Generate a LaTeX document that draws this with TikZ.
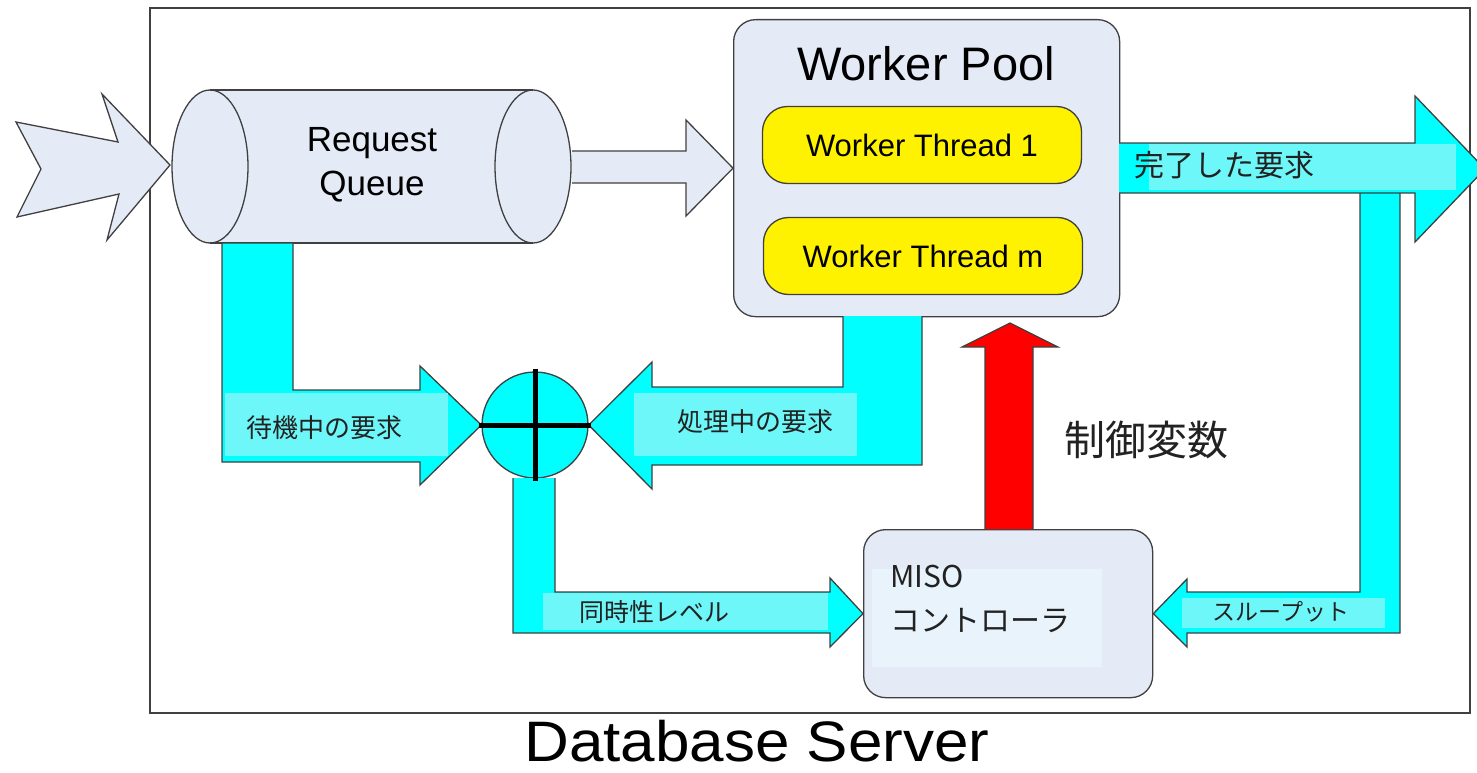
\documentclass[tikz,border=0pt]{standalone}
\usepackage{fontspec}
\setmainfont{Liberation Sans}
\newfontfamily\jp{Noto Sans CJK JP}
\usepackage{tikz}
\usetikzlibrary{shapes.geometric}
\definecolor{Pale}{RGB}{228,234,246}
\definecolor{Aqua}{RGB}{0,255,255}
\definecolor{AquaLight}{RGB}{110,247,248}
\definecolor{MisoLight}{RGB}{233,243,251}
\definecolor{Ink}{RGB}{34,34,34}
\tikzset{
  outline/.style={draw=black!75, line width=1.3pt, line join=miter},
  paleshape/.style={outline, fill=Pale},
  flow/.style={outline, fill=Aqua},
  box/.style={paleshape, rounded corners=22pt, inner sep=0pt},
  thread/.style={outline, fill=yellow, rounded corners=25pt, minimum width=319pt, minimum height=77pt, font=\fontsize{31}{34}\selectfont},
  jtext/.style={font=\jp\fontsize{#1}{#1}\selectfont, text=Ink, inner sep=0pt},
}

\begin{document}
\begin{tikzpicture}[x=1pt, y=-1pt]
        \useasboundingbox (0,0) rectangle (1477,773);

        % server frame
        \draw[black!75, line width=1.6pt] (150,8) rectangle (1470,713);
        \node[font=\fontsize{62}{64}\selectfont, inner sep=0pt, yscale=0.92, transform shape] (server) at (757,741) {Database Server};

        % boxes
        \node[box, minimum width=386pt, minimum height=297pt, anchor=north west] (pool) at (733,19) {};
        \node[font=\fontsize{47}{50}\selectfont, inner sep=0pt] (pooltitle) at (926,64) {Worker Pool};
        \node[thread] (thread1) at (922,145) {Worker Thread 1};
        \node[thread] (threadm) at (923,256) {Worker Thread m};
        \node[box, minimum width=289pt, minimum height=168pt, anchor=north west] (miso) at (863,529) {};
        \node[circle, outline, fill=Aqua, minimum size=106pt, inner sep=0pt] (sum) at (535,425) {};

        % incoming requests and queue
        \draw[paleshape] (16,122) -- (118,142) -- (102,94) -- (170,165) -- (107,240) -- (119,194) -- (17,217) -- (41,169) -- cycle;
        \fill[Pale] (210,90) rectangle (533,243);
        \draw[paleshape] (533,166.5) ellipse [x radius=38pt, y radius=76.5pt];
        \draw[paleshape] (210,166.5) ellipse [x radius=38pt, y radius=76.5pt];
        \draw[outline] (210,90) -- (533,90) (210,243) -- (533,243);
        \node[font=\fontsize{35}{44}\selectfont, align=center] (queue) at (372,165) {Request\\Queue};
        \draw[paleshape] (572,151) -- (686,151) -- (686,120) -- (pool.west) -- (686,216) -- (686,183) -- (572,183);

        % cyan flows
        \draw[flow] (1360,168) -- (1360,592) -- (1187,592) -- (1187,579) -- (miso.east) -- (1187,647) -- (1187,633) -- (1400,633) -- (1400,168);
        \draw[flow] (1119,143) -- (1415,143) -- (1415,96) -- (1485,169) -- (1415,242) -- (1415,193) -- (1119,193);
        \draw[flow] (222,243) -- (222,462) -- (420,462) -- (420,485) -- (sum.west) -- (420,366) -- (420,390) -- (293,390) -- (293,243) -- cycle;
        \draw[flow] (843,316) -- (843,387) -- (652,387) -- (652,362) -- (sum.east) -- (652,489) -- (652,465) -- (922,465) -- (922,316);
        \draw[flow] (513,478) -- (513,633) -- (830,633) -- (830,647) -- (miso.west) -- (830,578) -- (830,592) -- (555,592) -- (555,478);
        \draw[line width=5pt] ([xshift=-2pt]sum.west) -- ([xshift=2pt]sum.east) ([yshift=2pt]sum.north) -- ([yshift=-2pt]sum.south);

        % control variable
        \draw[outline, fill=red] (985,529) -- (985,347) -- (962,347) -- (1010,323) -- (1058,347) -- (1033,347) -- (1033,529);
        \node[jtext=41] (ctrl) at (1146,440) {制御変数};

        % labels
        \fill[AquaLight] (1149,144) rectangle (1456,190);
        \node[jtext=30] (done) at (1224,165) {完了した要求};
        \fill[AquaLight] (225,393) rectangle (448,456);
        \node[jtext=26] (waiting) at (324,428) {待機中の要求};
        \fill[AquaLight] (634,393) rectangle (857,456);
        \node[jtext=26] (running) at (755,422) {処理中の要求};
        \fill[AquaLight] (543,593) rectangle (828,630);
        \node[jtext=25] (level) at (654,612) {同時性レベル};
        \fill[AquaLight] (1182,598) rectangle (1385,628);
        \node[jtext=23] (thru) at (1281,612) {スループット};
        \fill[MisoLight] (872,569) rectangle (1102,667);
        \node[jtext=30, anchor=base west] (misoname) at (890,587) {MISO};
        \node[jtext=30, anchor=base west] (misorole) at (890,631) {コントローラ};
\end{tikzpicture}
\end{document}
